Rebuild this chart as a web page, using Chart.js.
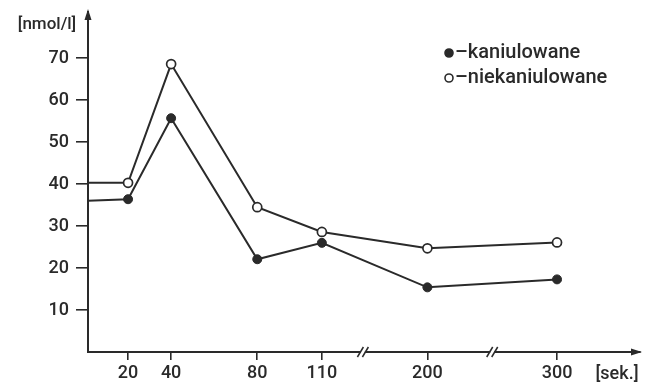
<!DOCTYPE html>
<html><head><meta charset="utf-8">
<script src="https://cdn.jsdelivr.net/npm/chart.js@4.4.0/dist/chart.umd.min.js"></script>
<style>html,body{margin:0;padding:0;background:#fff}#wrap{width:652px;height:383px;position:relative}</style>
</head><body><div id="wrap"><canvas id="c"></canvas></div>
<script>
// ---- data ----
const seconds = [0, 20, 40, 80, 110, 200, 300];
const kaniulowane = [36.0, 36.4, 55.7, 22.1, 26.0, 15.4, 17.3];
const niekaniulowane = [40.3, 40.3, 68.6, 34.5, 28.6, 24.7, 26.1];
const xTickLabels = [20, 40, 80, 110, 200, 300];
const yTickLabels = [10, 20, 30, 40, 50, 60, 70];
const seriesNames = ['kaniulowane', 'niekaniulowane'];
const yUnit = '[nmol/l]';
const xUnit = '[sek.]';
const axisBreaks = [145, 250];
// broken time axis: value -> compressed axis units (scale configuration)
const xScaleNodes = [[0, 0], [110, 110], [200, 159], [300, 219.2], [400, 279.4]];

const INK = '#2a2a2a';
const FONT = 'Roboto, "DejaVu Sans", sans-serif';

function toU(v) {
  const n = xScaleNodes;
  for (let i = 1; i < n.length; i++) {
    if (v <= n[i][0] || i === n.length - 1) {
      const [v0, u0] = n[i - 1], [v1, u1] = n[i];
      return u0 + (v - v0) * (u1 - u0) / (v1 - v0);
    }
  }
}
function fromU(u) {
  const n = xScaleNodes;
  for (let i = 1; i < n.length; i++) {
    if (u <= n[i][1] || i === n.length - 1) {
      const [v0, u0] = n[i - 1], [v1, u1] = n[i];
      return v0 + (u - u0) * (v1 - v0) / (u1 - u0);
    }
  }
}
class BrokenLinearScale extends Chart.LinearScale {
  getPixelForValue(value) {
    const a = toU(this.min), b = toU(this.max);
    return this.getPixelForDecimal((toU(value) - a) / (b - a));
  }
  getValueForPixel(pixel) {
    const a = toU(this.min), b = toU(this.max);
    return fromU(a + this.getDecimalForPixel(pixel) * (b - a));
  }
}
BrokenLinearScale.id = 'brokenLinear';
BrokenLinearScale.defaults = Chart.LinearScale.defaults;
Chart.register(BrokenLinearScale);

const decor = {
  id: 'decor',
  afterDraw(chart) {
    const ctx = chart.ctx, ca = chart.chartArea, xs = chart.scales.x;
    ctx.save();
    ctx.fillStyle = INK; ctx.strokeStyle = INK;
    // arrow heads
    ctx.beginPath();
    ctx.moveTo(ca.left, ca.top - 3); ctx.lineTo(ca.left - 3.5, ca.top + 8); ctx.lineTo(ca.left + 3.5, ca.top + 8); ctx.closePath(); ctx.fill();
    ctx.beginPath();
    ctx.moveTo(ca.right + 2, ca.bottom); ctx.lineTo(ca.right - 9, ca.bottom - 3.5); ctx.lineTo(ca.right - 9, ca.bottom + 3.5); ctx.closePath(); ctx.fill();
    // axis breaks
    axisBreaks.forEach(b => {
      const px = xs.getPixelForValue(b);
      ctx.fillStyle = '#fff';
      ctx.fillRect(px - 2, ca.bottom - 2, 4, 4);
      ctx.lineWidth = 1.5;
      [-2.5, 2.5].forEach(d => {
        ctx.beginPath();
        ctx.moveTo(px + d - 3, ca.bottom + 5);
        ctx.lineTo(px + d + 3, ca.bottom - 5);
        ctx.stroke();
      });
    });
    // units
    ctx.fillStyle = INK;
    ctx.textBaseline = 'middle';
    ctx.textAlign = 'center';
    ctx.font = '500 17px ' + FONT;
    ctx.fillText(yUnit, 47, 25);
    ctx.font = '500 18px ' + FONT;
    ctx.fillText(xUnit, 617, 374);
    // legend
    ctx.font = '500 20px ' + FONT;
    ctx.textAlign = 'left';
    chart.data.datasets.forEach((ds, i) => {
      const y = 53 + i * 25, x = 449;
      ctx.beginPath();
      ctx.arc(x, y, 4, 0, Math.PI * 2);
      ctx.fillStyle = ds.pointBackgroundColor;
      ctx.fill();
      ctx.lineWidth = 1.6; ctx.strokeStyle = INK; ctx.stroke();
      ctx.fillStyle = INK;
      ctx.fillText('\u2013' + ds.label, x + 6, y);
    });
    ctx.restore();
  }
};

const radius = ctx => (ctx.dataIndex === 0 ? 0 : 4.5);

new Chart(document.getElementById('c'), {
  type: 'line',
  data: {
    datasets: [
      {
        label: seriesNames[0],
        data: seconds.map((s, i) => ({ x: s, y: kaniulowane[i] })),
        borderColor: INK, borderWidth: 2,
        pointBackgroundColor: INK, pointBorderColor: INK, pointBorderWidth: 1,
        pointRadius: radius, tension: 0, clip: 0
      },
      {
        label: seriesNames[1],
        data: seconds.map((s, i) => ({ x: s, y: niekaniulowane[i] })),
        borderColor: INK, borderWidth: 2,
        pointBackgroundColor: '#ffffff', pointBorderColor: INK, pointBorderWidth: 1.7,
        pointRadius: radius, tension: 0, clip: 0
      }
    ]
  },
  options: {
    responsive: true, maintainAspectRatio: false, animation: false,
    layout: { padding: { top: 12, right: 12, left: 0, bottom: 0 } },
    plugins: { legend: { display: false }, tooltip: { enabled: false } },
    scales: {
      x: {
        type: 'brokenLinear', min: 1.4, max: 364,
        afterBuildTicks: s => { s.ticks = xTickLabels.map(v => ({ value: v })); },
        afterFit: s => { s.height = 31; s.paddingLeft = 0; s.paddingRight = 0; },
        grid: { display: true, drawOnChartArea: false, drawTicks: true, tickLength: 8, color: INK, lineWidth: 1.6 },
        border: { display: true, color: INK, width: 2 },
        ticks: { color: INK, font: { family: FONT, size: 18, weight: 500 }, padding: 3, maxRotation: 0, autoSkip: false }
      },
      y: {
        type: 'linear', min: 0, max: 81,
        afterBuildTicks: s => { s.ticks = yTickLabels.map(v => ({ value: v })); },
        afterFit: s => { s.width = 88; s.paddingTop = 0; s.paddingBottom = 0; },
        grid: { display: true, drawOnChartArea: false, drawTicks: true, tickLength: 12, color: INK, lineWidth: 1.6 },
        border: { display: true, color: INK, width: 2 },
        ticks: { color: INK, font: { family: FONT, size: 18, weight: 500 }, padding: 7, autoSkip: false }
      }
    }
  },
  plugins: [decor]
});
</script>
</body></html>
